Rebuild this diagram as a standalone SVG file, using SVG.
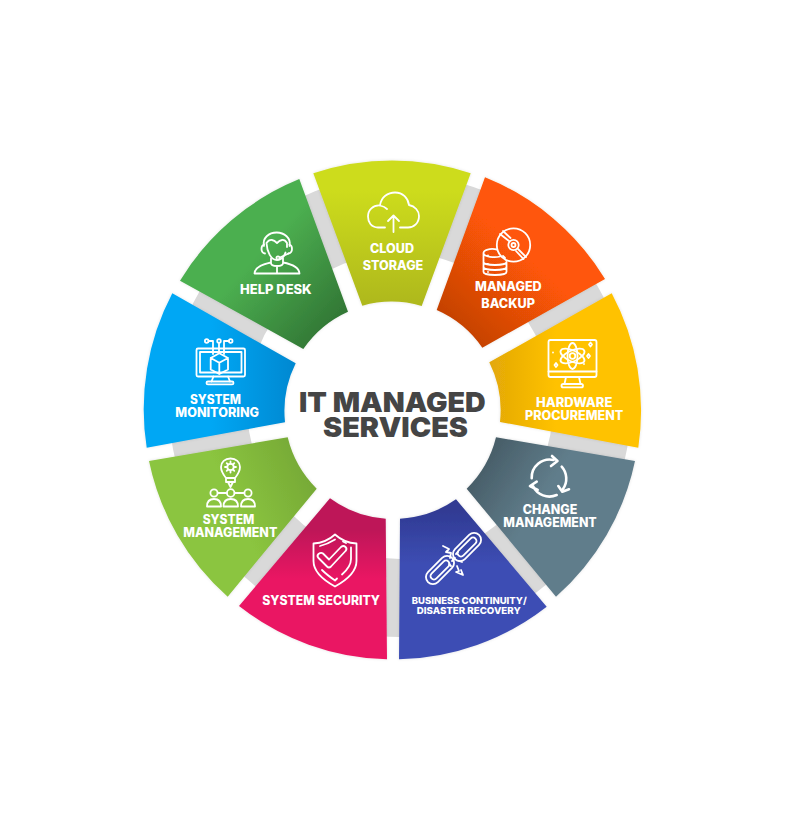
<svg xmlns="http://www.w3.org/2000/svg" width="796" height="816" viewBox="0 0 796 816">
<style>
text{font-family:Inter,"Liberation Sans",sans-serif;font-weight:800;fill:#fff;font-size:12.6px}
.t{font-size:27.5px;font-weight:900;fill:#454545}
.s{font-size:9.6px}
.i{fill:none;stroke:#fff;stroke-width:1.8;stroke-linecap:round;stroke-linejoin:round}
.b{stroke-width:2.6}
.w{filter:url(#sh)}
</style>
<defs>
<filter id="sh" x="-10%" y="-10%" width="120%" height="120%"><feDropShadow dx="0" dy="0" stdDeviation="1.4" flood-color="#000" flood-opacity=".12"/></filter>
<linearGradient id="g1" gradientUnits="userSpaceOnUse" x1="392" y1="190" x2="392" y2="305"><stop offset="0" stop-color="#CDDC1F"/><stop offset="1" stop-color="#AEB81B"/></linearGradient>
<linearGradient id="g2" gradientUnits="userSpaceOnUse" x1="560" y1="220" x2="450" y2="340"><stop offset=".3" stop-color="#FF5707"/><stop offset="1" stop-color="#BC3F05"/></linearGradient>
<linearGradient id="g3" gradientUnits="userSpaceOnUse" x1="600" y1="380" x2="490" y2="380"><stop offset=".4" stop-color="#FFC200"/><stop offset="1" stop-color="#E3A808"/></linearGradient>
<linearGradient id="g4" gradientUnits="userSpaceOnUse" x1="590" y1="520" x2="480" y2="450"><stop offset=".4" stop-color="#607D8B"/><stop offset="1" stop-color="#455A64"/></linearGradient>
<linearGradient id="g5" gradientUnits="userSpaceOnUse" x1="440" y1="620" x2="440" y2="510"><stop offset=".5" stop-color="#3D4EB4"/><stop offset="1" stop-color="#303A93"/></linearGradient>
<linearGradient id="g6" gradientUnits="userSpaceOnUse" x1="340" y1="600" x2="340" y2="530"><stop offset=".3" stop-color="#EA1763"/><stop offset="1" stop-color="#BE1558"/></linearGradient>
<linearGradient id="g7" gradientUnits="userSpaceOnUse" x1="200" y1="520" x2="310" y2="470"><stop offset=".3" stop-color="#8BC53F"/><stop offset="1" stop-color="#76A936"/></linearGradient>
<linearGradient id="g8" gradientUnits="userSpaceOnUse" x1="190" y1="380" x2="295" y2="380"><stop offset=".2" stop-color="#02A7F4"/><stop offset="1" stop-color="#0288D1"/></linearGradient>
<linearGradient id="g9" gradientUnits="userSpaceOnUse" x1="230" y1="240" x2="340" y2="340"><stop offset=".2" stop-color="#4CAF50"/><stop offset="1" stop-color="#2E6F31"/></linearGradient>
</defs>
<rect width="796" height="816" fill="#fff"/>
<g id="connectors"><circle cx="400" cy="406" r="192" fill="none" stroke="#d9d9d9" stroke-width="78"/></g>

<g id="cloud-storage">
<path class="w" fill="url(#g1)" d="M313.3 173.3A249 249 0 0 1 470.7 173.3L421.7 306A108 108 0 0 0 362.3 305.7Z"/>
<path class="i" d="M385 227.5H378C371 227.5 368 222 368 216.5C368 210 373 205 380 205.5C381 197 388 192.5 395 192.5C403 192.500 408 198 409 205C415 206 419 211 419 216C419 223 414 227.5 408 227.5H400M380 205.5C382 206 385 207 387 209M393.5 232V216M388 221L393.5 215.5L399 221"/>
<text x="370" y="252.7" textLength="44" lengthAdjust="spacingAndGlyphs">CLOUD</text>
<text x="362.7" y="270" textLength="60.6" lengthAdjust="spacingAndGlyphs">STORAGE</text>
</g>

<g id="managed-backup">
<path class="w" fill="url(#g2)" d="M485 177.3A249 249 0 0 1 605 279L482.3 347.7A108 108 0 0 0 436.7 310Z"/>
<g class="i"><circle cx="513.5" cy="245" r="16.7"/><circle cx="513.5" cy="245" r="5.2"/><circle cx="513.5" cy="245" r="2"/>
<path d="M500 234L509 241M503 231L510.5 238M518 249L526 257M516 251L523.5 259M503 256L505 258"/>
<path d="M497 249.5C490 248 483.5 250 483.5 253V272C483.5 276 506.5 276 506.5 272V262M483.5 253C483.5 257 495 258 500 256.5M483.5 262C483.5 266 506.5 266 506.5 262M483.5 267C483.5 271 506.5 271 506.5 267M488 255.5V255.5M488 264V264M488 272V272"/></g>
<text x="475" y="291" textLength="66.7" lengthAdjust="spacingAndGlyphs">MANAGED</text>
<text x="481.3" y="307.7" textLength="53.7" lengthAdjust="spacingAndGlyphs">BACKUP</text>
</g>

<g id="hardware-procurement">
<path class="w" fill="url(#g3)" d="M611.7 293.3A249 249 0 0 1 638.3 447.7L500 422A108 108 0 0 0 489.3 362.3Z"/>
<g class="i"><rect x="548.5" y="340" width="48" height="37" rx="2"/><path d="M548.5 371.5H596.5M566 377L564.5 384M579 377L580.5 384"/><rect x="561.5" y="384" width="21.5" height="3.4" rx="1.7"/>
<ellipse cx="572.5" cy="356" rx="13" ry="5.5" transform="rotate(25 572.5 356)"/><ellipse cx="572.5" cy="356" rx="13" ry="5.5" transform="rotate(-25 572.5 356)"/><ellipse cx="572.5" cy="356" rx="5" ry="13"/><circle cx="572.5" cy="356" r="2.8"/>
<path d="M590.5 342.5L592 344.5L590.5 346.5L589 344.5ZM588.5 354L590 356L588.5 358L587 356ZM556 363L557.5 365L556 367L554.5 365ZM553 352.5V352.5M584 364V364"/></g>
<text x="536" y="407.3" textLength="76.3" lengthAdjust="spacingAndGlyphs">HARDWARE</text>
<text x="525" y="420" textLength="98.3" lengthAdjust="spacingAndGlyphs">PROCUREMENT</text>
</g>

<g id="change-management">
<path class="w" fill="url(#g4)" d="M635 461A249 249 0 0 1 556 596.7L466.7 488.7A108 108 0 0 0 496 437.3Z"/>
<g class="i b"><path d="M531.7 478.3A18 18 0 0 1 553.5 460M552 456L557.5 461L551 466"/><path d="M561.7 466.7A18 18 0 0 1 563 489M558.3 486L562.3 491.7L569 489.3"/><path d="M556.7 495A18 18 0 0 1 533 486M530 486L536.7 481.7M530 486L537.7 490"/></g>
<text x="522.7" y="514.3" textLength="54.6" lengthAdjust="spacingAndGlyphs">CHANGE</text>
<text x="503.3" y="526.7" textLength="93.4" lengthAdjust="spacingAndGlyphs">MANAGEMENT</text>
</g>

<g id="business-continuity">
<path class="w" fill="url(#g5)" d="M546.7 606.7A249 249 0 0 1 399 659.3L400 518.7A108 108 0 0 0 456 499.3Z"/>
<g class="i"><rect x="450" y="540" width="34" height="14" rx="7" transform="rotate(-45 467 547)"/><rect x="455" y="543.5" width="24" height="7" rx="3.5" transform="rotate(-45 467 547)"/>
<rect x="423" y="563" width="34" height="14" rx="7" transform="rotate(-45 440 570)"/><rect x="428" y="566.500" width="24" height="7" rx="3.5" transform="rotate(-45 440 570)"/>
<path d="M443 546L449 549L446 552L451 553L450 558M457 566L459 571L456 572L463 575L461 570M452 561L455 558M456 554L458 552M449 564L451 566M459 561L462 562"/></g>
<text class="s" x="411.7" y="603.7" textLength="115" lengthAdjust="spacingAndGlyphs">BUSINESS CONTINUITY/</text>
<text class="s" x="416.7" y="614.3" textLength="104" lengthAdjust="spacingAndGlyphs">DISASTER RECOVERY</text>
</g>

<g id="system-security">
<path class="w" fill="url(#g6)" d="M387 659.3A249 249 0 0 1 239 606L330 498.3A108 108 0 0 0 385.7 518.7Z"/>
<g class="i"><path d="M335 534.5C329 540 322 543 313.5 543.5V561C313.5 572 325 581 335 586.5C345 581 356.5 572 356.5 561V543.5C348 543 341 540 335 534.5Z"/>
<path d="M335 539.5C331 542 326 544.5 320 546M343 541.5L346 543M351 547.5V559C351 566 346 571 342 574.5M337 578.5L335 580.5C330 577 325 573 322 570"/>
<path d="M323 553.5L329 559.5L341 547Q343.5 545 345.5 547Q347.5 549 345.5 551L331 566.5Q329 568.5 327 566.5L318.5 558Q316.5 556 318.5 554Q321 552 323 553.5Z"/></g>
<text x="262.3" y="605.3" textLength="117.7" lengthAdjust="spacingAndGlyphs">SYSTEM SECURITY</text>
</g>

<g id="system-management">
<path class="w" fill="url(#g7)" d="M227.7 596.7A249 249 0 0 1 149 461L287.7 437.3A108 108 0 0 0 316.7 488.7Z"/>
<g class="i"><path d="M226 478C222 473 221 470 221 467C221 462 225 458.5 230.5 458.5C236 458.5 240 462 240 467C240 470 239 473 235 478ZM226 478V482H235V478M228 482L230.5 487L233 482"/>
<circle cx="230.5" cy="467" r="3.2"/><path d="M230.5 461.5V463.5M230.5 470.5V472.5M225 467H227M234 467H236M226.7 463.2L228 464.5M233 469.5L234.3 470.8M234.3 463.2L233 464.5M228 469.5L226.7 470.8"/>
<circle cx="214" cy="493" r="3.6"/><circle cx="230.7" cy="493" r="3.8"/><circle cx="248" cy="493" r="3.6"/>
<path d="M207 506.5C207 501 210 499 214 499C218 499 221 501 221 506.5ZM223.5 506.5C223.5 501 226.5 499 230.7 499C235 499 238 501 238 506.5ZM241 506.5C241 501 244 499 248 499C252 499 255 501 255 506.5Z"/>
<path d="M217.6 493H227M234.5 493H244.4"/></g>
<text x="202.7" y="524" textLength="51.6" lengthAdjust="spacingAndGlyphs">SYSTEM</text>
<text x="183.3" y="536.7" textLength="94" lengthAdjust="spacingAndGlyphs">MANAGEMENT</text>
</g>

<g id="system-monitoring">
<path class="w" fill="url(#g8)" d="M146.7 447.7A249 249 0 0 1 172.3 293.3L295.7 363.3A108 108 0 0 0 285 422.3Z"/>
<g class="i"><rect x="196.5" y="348.5" width="48.5" height="28" rx="1.5"/><path d="M200 352H241.5V372.5H200ZM213.5 376.5L211.5 381.5M228 376.5L230 381.5"/><rect x="206.5" y="381.5" width="27" height="2.8" rx="1.4"/>
<path d="M219.3 353.2L228 358V369.5L219.3 374L210.7 369.5V358ZM210.7 358L219.3 362.8L228 358M219.3 362.8V374"/>
<circle cx="206.7" cy="341" r="1.8"/><circle cx="219" cy="341" r="1.8"/><circle cx="230.7" cy="341" r="1.8"/>
<path d="M208.5 341H213V354M219 343V353M229 341H224V354"/></g>
<text x="190" y="404.3" textLength="51" lengthAdjust="spacingAndGlyphs">SYSTEM</text>
<text x="175.3" y="416.7" textLength="83.7" lengthAdjust="spacingAndGlyphs">MONITORING</text>
</g>

<g id="help-desk">
<path class="w" fill="url(#g9)" d="M180 280.7A249 249 0 0 1 299.3 179L348 311.7A108 108 0 0 0 303.3 349Z"/>
<g class="i"><path d="M264 246C262 238 269 232.5 276.7 232.5C284 232.5 291.500 238 289.5 246"/><path d="M264 244.500C262 245 261.500 247 261.500 249C261.500 251 262.500 253 265 253.500M289.5 244.500C291.500 245 292 247 292 249C292 251 291 253 288.500 253.500"/>
<path d="M266.500 243C267 252 271 260 277 260C281 260 284 257 285.500 252.500M266.500 243C270 238 274 240 277 243C280 240 284 238 287 243V247"/>
<path d="M288.500 253.500L280 257.500"/><circle cx="278" cy="258" r="1.600"/>
<path d="M271 258.500V263C271 267 283 267 283 263V258.500M271 262.500C263 264 255 267 254.500 273.500H299.500C299 267 291 264 283 262.500M277 266.500V273"/></g>
<text x="240" y="294" textLength="71.7" lengthAdjust="spacingAndGlyphs">HELP DESK</text>
</g>

<g id="center">
<text class="t" x="299" y="412.300" textLength="186.700" lengthAdjust="spacingAndGlyphs">IT MANAGED</text>
<text class="t" x="323" y="437.300" textLength="145" lengthAdjust="spacingAndGlyphs">SERVICES</text>
</g>
</svg>
